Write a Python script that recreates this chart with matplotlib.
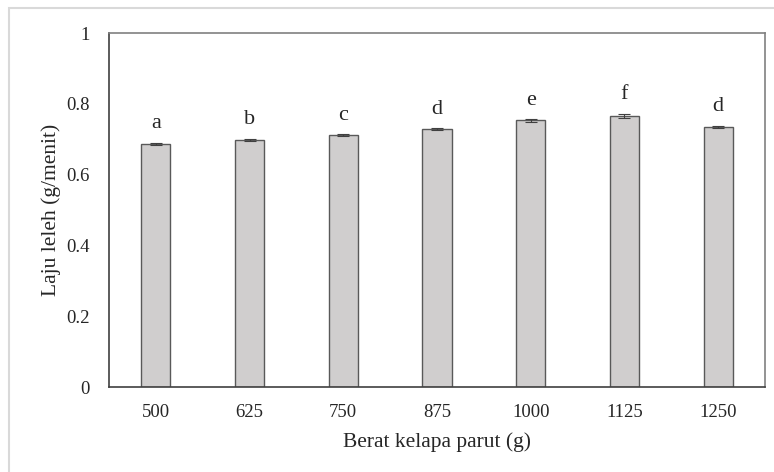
import matplotlib
matplotlib.use("Agg")
import matplotlib.pyplot as plt
from matplotlib.patches import Rectangle

categories = ["500", "625", "750", "875", "1000", "1125", "1250"]
values = [0.686, 0.698, 0.711, 0.729, 0.753, 0.766, 0.734]
errors = [0.003, 0.002, 0.003, 0.002, 0.003, 0.005, 0.003]
letters = ["a", "b", "c", "d", "e", "f", "d"]

plt.rcParams['font.family'] = ['Liberation Serif', 'DejaVu Serif']

fig = plt.figure(figsize=(7.74, 4.72), dpi=100)
W, H = 774, 472
# outer chart border
fig.patches.append(Rectangle((9 / W, -0.05), 1.0, (H - 8) / H + 0.05, transform=fig.transFigure,
                             fill=False, edgecolor='#d9d9d9', linewidth=1.5))
ax = fig.add_axes([109 / W, 1 - 387 / H, (765 - 109) / W, (387 - 33) / H])

x = list(range(len(categories)))
ax.bar(x, values, width=0.31, color='#d0cece', edgecolor='#595959', linewidth=1.0,
       yerr=errors, error_kw=dict(ecolor='#404040', elinewidth=0.8, capsize=4, capthick=0.8))
for xi, v, e, t in zip(x, values, errors, letters):
    ax.annotate(t, (xi, v + e), xytext=(0, 7), textcoords='offset points',
                ha='center', va='bottom', fontsize=16, color='#262626')

ax.set_xlim(-0.5, len(categories) - 0.5)
ax.set_ylim(0, 1)
ax.set_yticks([0, 0.2, 0.4, 0.6, 0.8, 1])
ax.set_yticklabels(["0", "0.2", "0.4", "0.6", "0.8", "1"])
ax.set_xticks(x)
ax.set_xticklabels(categories)
ax.tick_params(length=0, labelsize=13.5, colors='#262626')
ax.tick_params(axis='x', pad=12)
ax.tick_params(axis='y', pad=14)
ax.set_xlabel("Berat kelapa parut (g)", fontsize=15.5, color='#262626', labelpad=8)
ax.set_ylabel("Laju leleh (g/menit)", fontsize=15.5, color='#262626', labelpad=4)
for s in ['left', 'bottom']:
    ax.spines[s].set_color('#404040')
    ax.spines[s].set_linewidth(1.2)
for s in ['top', 'right']:
    ax.spines[s].set_color('#808080')
    ax.spines[s].set_linewidth(1.2)

fig.savefig("out.png", dpi=100)
